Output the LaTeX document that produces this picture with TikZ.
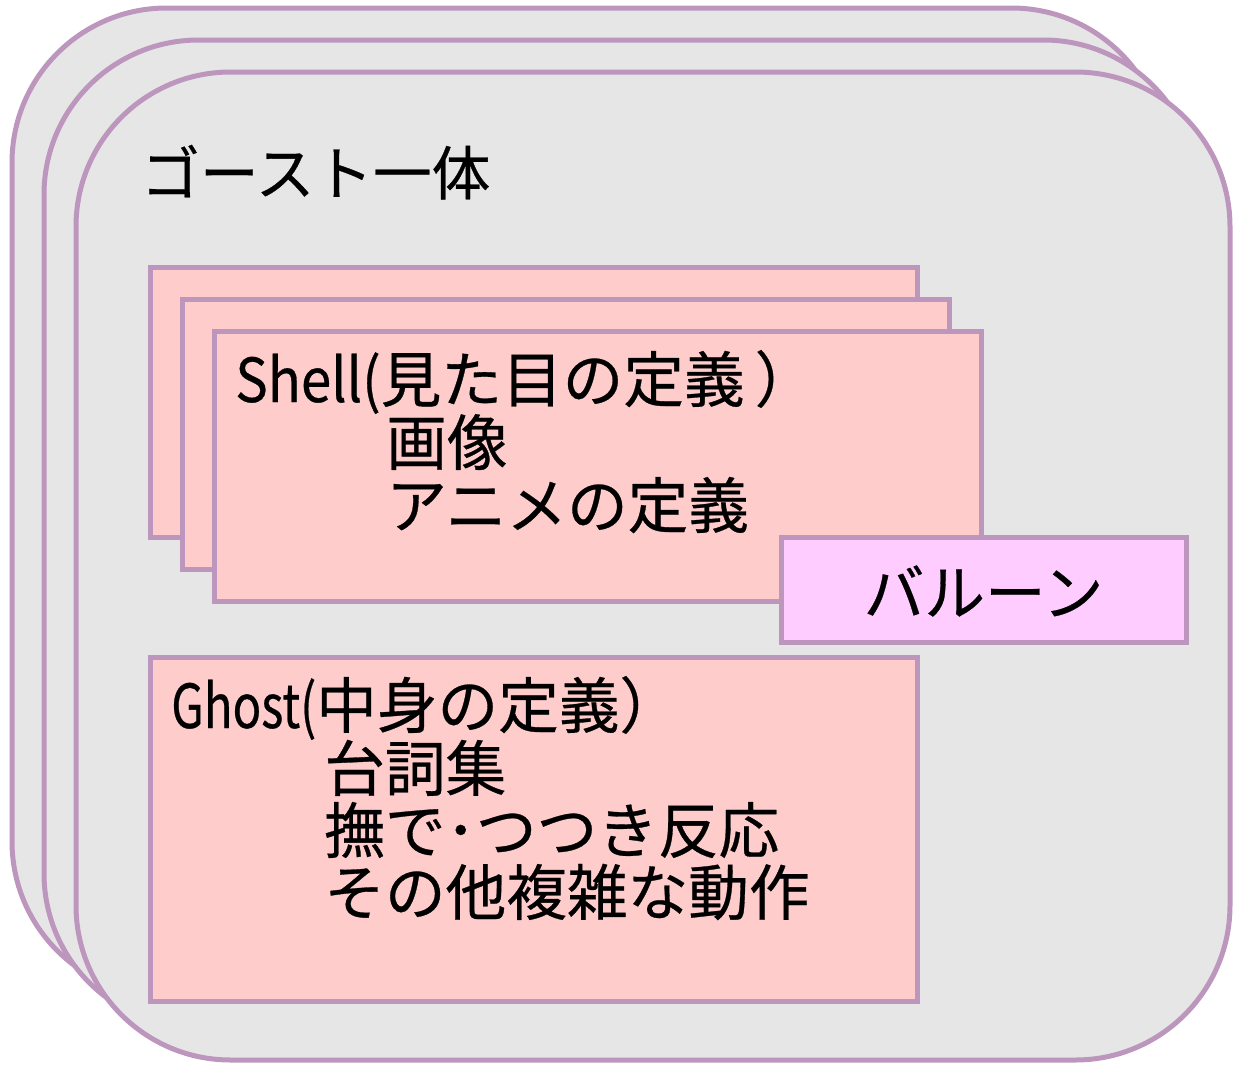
\documentclass[tikz,border=0pt]{standalone}
\usepackage{fontspec}
\setmainfont{Noto Sans CJK JP}[FakeBold=0.5]
\definecolor{edge}{RGB}{189,150,189}
\definecolor{panel}{RGB}{230,230,230}
\definecolor{shellfill}{RGB}{255,204,204}
\definecolor{balloonfill}{RGB}{255,204,255}
\newcommand{\narrowlatin}[2]{\scalebox{#1}[1]{#2}}
\begin{document}
\begin{tikzpicture}[x=0.75pt,y=-0.75pt,
  frame/.style={draw=edge,fill=panel,line width=3.75pt,rounded corners=116pt},
  card/.style={draw=edge,fill=shellfill,line width=3.75pt},
  bcard/.style={draw=edge,fill=balloonfill,line width=3.75pt},
  txt/.style={anchor=base west,inner sep=0pt,font=\fontsize{45.5}{48}\selectfont},
]
\useasboundingbox (0,0) rectangle (1239,1067);
% ghost frames
\draw[frame] (12,8) rectangle (1166,996);
\draw[frame] (44,40) rectangle (1198,1028);
\draw[frame] (76,72) rectangle (1230,1060);
\node[txt,font=\fontsize{44}{48}\selectfont] (title) at (141,195) {ゴースト一体};
% shell cards
\draw[card] (150,267) rectangle (917,537);
\draw[card] (182,299) rectangle (949,569);
\draw[card] (214,331) rectangle (981,601);
\node[txt] (s1) at (235,402) {\narrowlatin{0.9}{Shell(}見た目の定義\,）};
\node[txt] (s2) at (386,465) {画像};
\node[txt] (s3) at (386,528) {アニメの定義};
% balloon
\draw[bcard] (781,537) rectangle (1186,642);
\node[anchor=center,inner sep=0pt,font=\fontsize{45.5}{48}\selectfont] (balloon) at (983.5,591) {バルーン};
% ghost card
\draw[card] (150,657) rectangle (917,1001);
\node[txt] (g1) at (171,728) {\narrowlatin{0.78}{Ghost(}中身の定義）};
\node[txt] (g2) at (324,791) {台詞集};
\node[txt] (g3) at (324,853) {撫で･つつき反応};
\node[txt] (g4) at (324,915) {その他複雑な動作};
\end{tikzpicture}
\end{document}
